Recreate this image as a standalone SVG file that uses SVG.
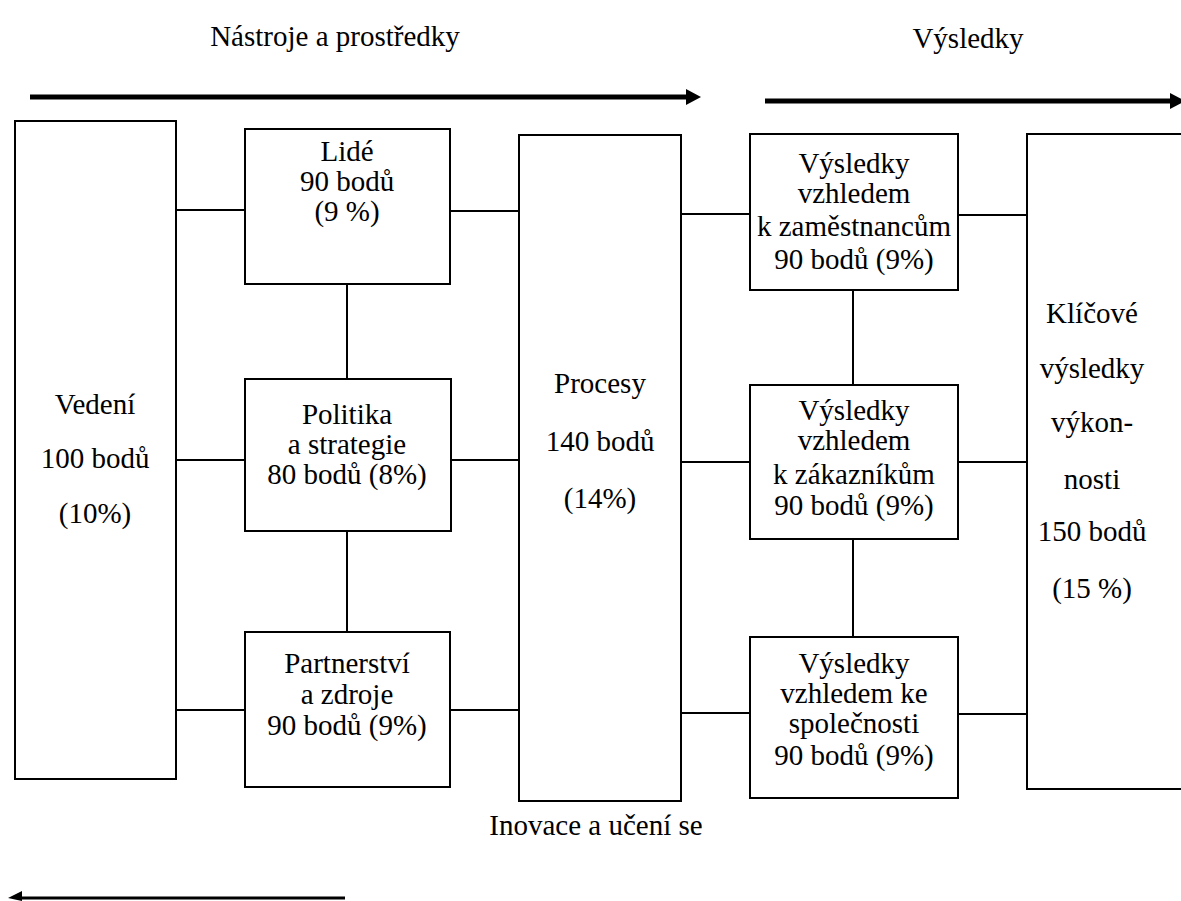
<svg xmlns="http://www.w3.org/2000/svg" width="1181" height="901" viewBox="0 0 1181 901" font-family="'Liberation Serif', 'Times New Roman', Tinos, 'DejaVu Serif', serif">
  <style>
    .box { fill: #ffffff; stroke: #000000; stroke-width: 2; }
    .link { stroke: #000000; stroke-width: 2; fill: none; }
    .bar { stroke: #000000; stroke-width: 5; fill: none; }
    .lbl { font-family: 'Liberation Serif', 'Times New Roman', Tinos, 'DejaVu Serif', serif; font-size: 29px; fill: #000000; text-anchor: middle; }
  </style>
  <rect width="1181" height="901" fill="#ffffff"/>

  <!-- headings -->
  <g id="headings" class="lbl">
    <text x="335" y="46">Nástroje a prostředky</text>
    <text x="968" y="48">Výsledky</text>
    <text x="596" y="835">Inovace a učení se</text>
  </g>

  <!-- direction arrows -->
  <g id="arrows">
    <line class="bar" x1="30" y1="97" x2="688" y2="97"/>
    <polygon points="686,89 701,97 686,105" fill="#000"/>
    <line class="bar" x1="765" y1="101" x2="1172" y2="101"/>
    <polygon points="1170,93 1185,101 1170,109" fill="#000"/>
    <line class="link" x1="18" y1="898" x2="345" y2="898" style="stroke-width:3"/>
    <polygon points="8,898 22,891 22,901" fill="#000"/>
  </g>

  <!-- connectors -->
  <g id="connectors">
    <line class="link" x1="176" y1="210" x2="245" y2="210"/>
    <line class="link" x1="176" y1="460" x2="245" y2="460"/>
    <line class="link" x1="176" y1="710" x2="245" y2="710"/>
    <line class="link" x1="450" y1="211" x2="519" y2="211"/>
    <line class="link" x1="450" y1="460" x2="519" y2="460"/>
    <line class="link" x1="450" y1="710" x2="519" y2="710"/>
    <line class="link" x1="347" y1="284" x2="347" y2="379"/>
    <line class="link" x1="347" y1="531" x2="347" y2="632"/>
    <line class="link" x1="681" y1="214" x2="750" y2="214"/>
    <line class="link" x1="681" y1="462" x2="750" y2="462"/>
    <line class="link" x1="681" y1="713" x2="750" y2="713"/>
    <line class="link" x1="958" y1="215" x2="1027" y2="215"/>
    <line class="link" x1="958" y1="462" x2="1027" y2="462"/>
    <line class="link" x1="958" y1="714" x2="1027" y2="714"/>
    <line class="link" x1="853" y1="290" x2="853" y2="385"/>
    <line class="link" x1="853" y1="539" x2="853" y2="637"/>
  </g>

  <g id="vedeni" class="lbl">
    <rect class="box" x="15" y="121" width="161" height="658"/>
    <text x="95" y="414">Vedení</text>
    <text x="95" y="468">100 bodů</text>
    <text x="95" y="523">(10%)</text>
  </g>

  <g id="lide" class="lbl">
    <rect class="box" x="245" y="129" width="205" height="155"/>
    <text x="347" y="161">Lidé</text>
    <text x="347" y="191">90 bodů</text>
    <text x="347" y="221">(9 %)</text>
  </g>

  <g id="politika" class="lbl">
    <rect class="box" x="245" y="379" width="206" height="152"/>
    <text x="347" y="424">Politika</text>
    <text x="347" y="454">a strategie</text>
    <text x="347" y="484">80 bodů (8%)</text>
  </g>

  <g id="partnerstvi" class="lbl">
    <rect class="box" x="245" y="632" width="205" height="155"/>
    <text x="347" y="673">Partnerství</text>
    <text x="347" y="704">a zdroje</text>
    <text x="347" y="735">90 bodů (9%)</text>
  </g>

  <g id="procesy" class="lbl">
    <rect class="box" x="519" y="135" width="162" height="666"/>
    <text x="600" y="393">Procesy</text>
    <text x="600" y="451">140 bodů</text>
    <text x="600" y="508">(14%)</text>
  </g>

  <g id="zamestnanci" class="lbl">
    <rect class="box" x="750" y="134" width="208" height="156"/>
    <text x="854" y="173">Výsledky</text>
    <text x="854" y="203">vzhledem</text>
    <text x="854" y="236">k zaměstnancům</text>
    <text x="854" y="269">90 bodů (9%)</text>
  </g>

  <g id="zakaznici" class="lbl">
    <rect class="box" x="750" y="385" width="208" height="154"/>
    <text x="854" y="420">Výsledky</text>
    <text x="854" y="450">vzhledem</text>
    <text x="854" y="484">k zákazníkům</text>
    <text x="854" y="515">90 bodů (9%)</text>
  </g>

  <g id="spolecnost" class="lbl">
    <rect class="box" x="750" y="637" width="208" height="161"/>
    <text x="854" y="673">Výsledky</text>
    <text x="854" y="703">vzhledem ke</text>
    <text x="854" y="733">společnosti</text>
    <text x="854" y="765">90 bodů (9%)</text>
  </g>

  <g id="klicove" class="lbl">
    <rect class="box" x="1027" y="134" width="170" height="655"/>
    <text x="1092" y="323">Klíčové</text>
    <text x="1092" y="378">výsledky</text>
    <text x="1092" y="432">výkon-</text>
    <text x="1092" y="489">nosti</text>
    <text x="1092" y="541">150 bodů</text>
    <text x="1092" y="598">(15 %)</text>
  </g>
</svg>
